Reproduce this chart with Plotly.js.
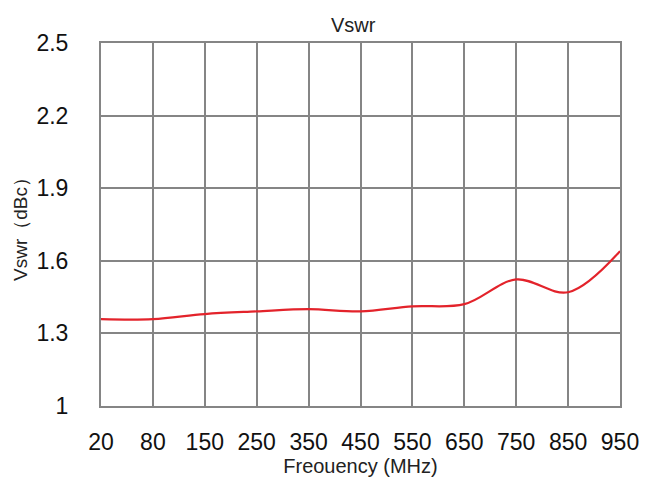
<!DOCTYPE html>
<html>
<head>
<meta charset="utf-8">
<script src="https://cdn.plot.ly/plotly-3.0.1.min.js"></script>
<style>html,body{margin:0;padding:0;background:#fff;}#chart{width:648px;height:482px;}</style>
</head>
<body>
<div id="chart"></div>
<script>
const frequencies = ["20","80","150","250","350","450","550","650","750","850","950"];
const vswr = [1.359, 1.359, 1.38, 1.391, 1.40, 1.391, 1.412, 1.421, 1.523, 1.47, 1.64];
const yTicks = [1, 1.3, 1.6, 1.9, 2.2, 2.5];
const yTickText = ["1", "1.3", "1.6", "1.9", "2.2", "2.5"];

const FONT = "Liberation Sans, Arial, sans-serif";
const trace = {
  x: frequencies,
  y: vswr,
  type: "scatter",
  mode: "lines",
  line: {color: "#e3232b", width: 2.2, shape: "spline", smoothing: 1.0},
  hoverinfo: "skip"
};
const layout = {
  width: 648, height: 482,
  margin: {l: 101, r: 28, t: 43, b: 76},
  paper_bgcolor: "#fff", plot_bgcolor: "#fff",
  showlegend: false,
  title: {text: "Vswr", font: {family: FONT, size: 20, color: "#222"},
          x: 0.545, xref: "container", xanchor: "center", y: 1 - 25/482, yref: "container", yanchor: "middle"},
  xaxis: {
    type: "category", range: [0, 10],
    showgrid: true, gridcolor: "#858585", gridwidth: 2,
    showline: true, linecolor: "#858585", linewidth: 2, mirror: true,
    ticks: "", tickfont: {family: FONT, size: 23, color: "#111"},
    ticklabelstandoff: 14,
    zeroline: false,
    title: {text: "Freouency (MHz)", font: {family: FONT, size: 20, color: "#222"}, standoff: 4}
  },
  yaxis: {
    range: [1, 2.5], tickvals: yTicks, ticktext: yTickText,
    showgrid: true, gridcolor: "#858585", gridwidth: 2,
    showline: true, linecolor: "#858585", linewidth: 2, mirror: true,
    ticks: "", tickfont: {family: FONT, size: 23, color: "#111"},
    ticklabelstandoff: 26,
    zeroline: false,
    title: {text: "Vswr（dBc）", font: {family: FONT, size: 19, color: "#222"}, standoff: 4}
  }
};
Plotly.newPlot("chart", [trace], layout, {displayModeBar: false, staticPlot: true});
</script>
</body>
</html>
